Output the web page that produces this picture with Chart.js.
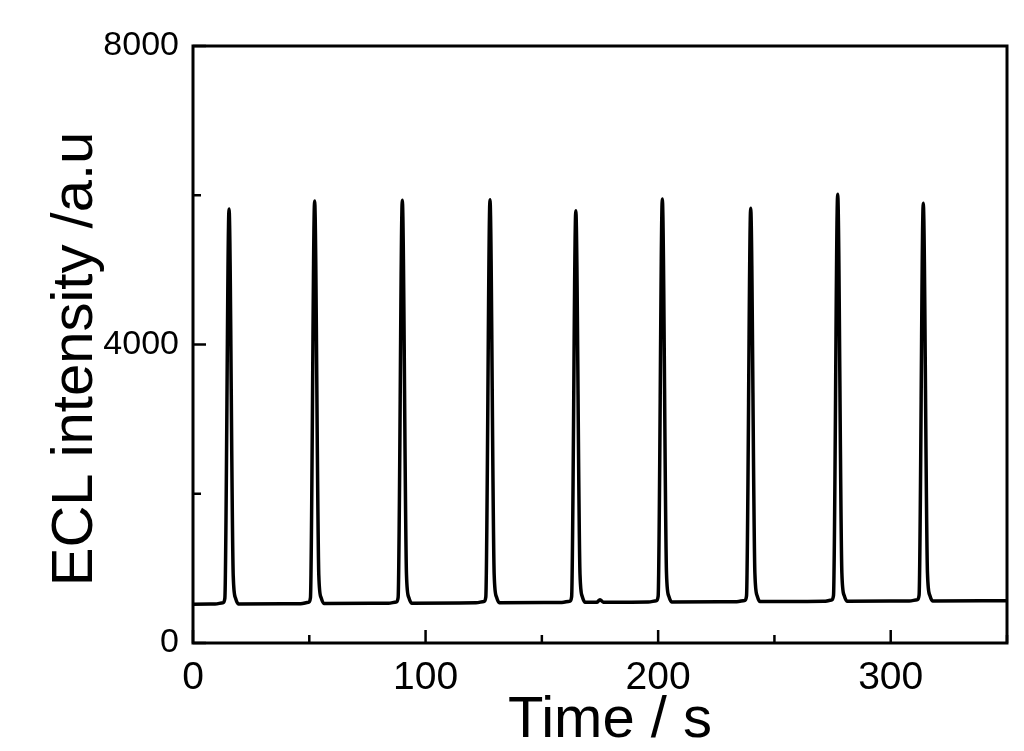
<!DOCTYPE html>
<html>
<head>
<meta charset="utf-8">
<script src="https://cdn.jsdelivr.net/npm/chart.js@4.4.0/dist/chart.umd.min.js"></script>
<style>
  html, body { margin: 0; padding: 0; background: #fff; }
</style>
</head>
<body>
<canvas id="chart" width="1024" height="751"></canvas>
<script>
// ECL intensity vs time
const timeS = [
  0,
  9.5, 12.9, 13.7, 15.5, 17.3, 18.3, 19.5,
  46.3, 49.7, 50.5, 52.3, 54.1, 55.1, 56.3,
  84.0, 87.4, 88.2, 90.0, 91.8, 92.8, 94.0,
  121.7, 125.1, 125.9, 127.7, 129.5, 130.5, 131.7,
  158.6, 162.0, 162.8, 164.6, 166.4, 167.4, 168.6, 173.6, 175.0, 176.4,
  195.8, 199.2, 200.0, 201.8, 203.6, 204.6, 205.8,
  233.8, 237.2, 238.0, 239.8, 241.6, 242.6, 243.8,
  271.2, 274.6, 275.4, 277.2, 279.0, 280.0, 281.2,
  308.0, 311.4, 312.2, 314.0, 315.8, 316.8, 318.0,
  350
]
const intensity = [
  520,
  522, 540, 600, 5816, 900, 600, 524,
  527, 545, 605, 5923, 905, 605, 529,
  532, 550, 610, 5932, 910, 610, 534,
  538, 556, 616, 5940, 916, 616, 540,
  543, 561, 621, 5793, 921, 621, 545, 546, 580, 547,
  548, 566, 626, 5950, 926, 626, 550,
  553, 571, 631, 5825, 931, 631, 555,
  558, 576, 636, 6013, 936, 636, 560,
  562, 580, 640, 5892, 940, 640, 564,
  565
]

const xTickValues = [0, 100, 200, 300]
const xMinorTicks = [50, 150, 250, 350]
const yTickValues = [0, 4000, 8000]
const yMinorTicks = [2000, 6000]

const X_TITLE = 'Time / s'
const Y_TITLE = 'ECL intensity /a.u'
const FONT = "'Liberation Sans', Arial, sans-serif"

// box around the plot, inward tick marks and the axis titles
const framePlugin = {
  id: 'frame',
  afterDraw (chart) {
    const ctx = chart.ctx
    const a = chart.chartArea
    const xs = chart.scales.x
    const ys = chart.scales.y
    ctx.save()
    ctx.strokeStyle = '#000'
    ctx.lineWidth = 3
    ctx.lineCap = 'butt'
    ctx.strokeRect(a.left, a.top, a.right - a.left, a.bottom - a.top)

    ctx.lineWidth = 2.5
    const tickX = (v, len) => {
      const px = xs.getPixelForValue(v)
      ctx.beginPath()
      ctx.moveTo(px, a.bottom)
      ctx.lineTo(px, a.bottom - len)
      ctx.stroke()
    }
    const tickY = (v, len) => {
      const py = ys.getPixelForValue(v)
      ctx.beginPath()
      ctx.moveTo(a.left, py)
      ctx.lineTo(a.left + len, py)
      ctx.stroke()
    }
    xTickValues.forEach(v => tickX(v, 13))
    xMinorTicks.forEach(v => tickX(v, 8))
    yTickValues.forEach(v => tickY(v, 13))
    yMinorTicks.forEach(v => tickY(v, 8))

    ctx.fillStyle = '#000'
    ctx.textAlign = 'center'
    ctx.textBaseline = 'alphabetic'
    ctx.font = '58px ' + FONT
    ctx.fillText(X_TITLE, (a.left + a.right) / 2 + 10, 737)

    ctx.translate(92, 359)
    ctx.rotate(-Math.PI / 2)
    ctx.fillText(Y_TITLE, 0, 0)
    ctx.restore()
  }
}

new Chart(document.getElementById('chart'), {
  type: 'line',
  data: {
    datasets: [{
      data: timeS.map((t, i) => ({ x: t, y: intensity[i] })),
      borderColor: '#000',
      borderWidth: 3.5,
      pointRadius: 0,
      fill: false,
      cubicInterpolationMode: 'monotone',
      borderJoinStyle: 'round'
    }]
  },
  options: {
    responsive: false,
    animation: false,
    layout: { padding: { top: 46, right: 17, left: 0, bottom: 0 } },
    plugins: {
      legend: { display: false },
      tooltip: { enabled: false }
    },
    scales: {
      x: {
        type: 'linear',
        min: 0,
        max: 350,
        afterBuildTicks: s => { s.ticks = xTickValues.map(v => ({ value: v })) },
        afterFit: s => { s.height = 108 },
        grid: { display: false, drawTicks: false },
        border: { display: false },
        ticks: {
          color: '#000',
          padding: 12,
          maxRotation: 0,
          callback: v => String(v),
          font: { family: FONT, size: 39 }
        }
      },
      y: {
        min: 0,
        max: 8000,
        afterBuildTicks: s => { s.ticks = yTickValues.map(v => ({ value: v })) },
        afterFit: s => { s.width = 193 },
        grid: { display: false, drawTicks: false },
        border: { display: false },
        ticks: {
          color: '#000',
          padding: 14,
          callback: v => String(v),
          font: { family: FONT, size: 34 }
        }
      }
    }
  },
  plugins: [framePlugin]
})
</script>
</body>
</html>
